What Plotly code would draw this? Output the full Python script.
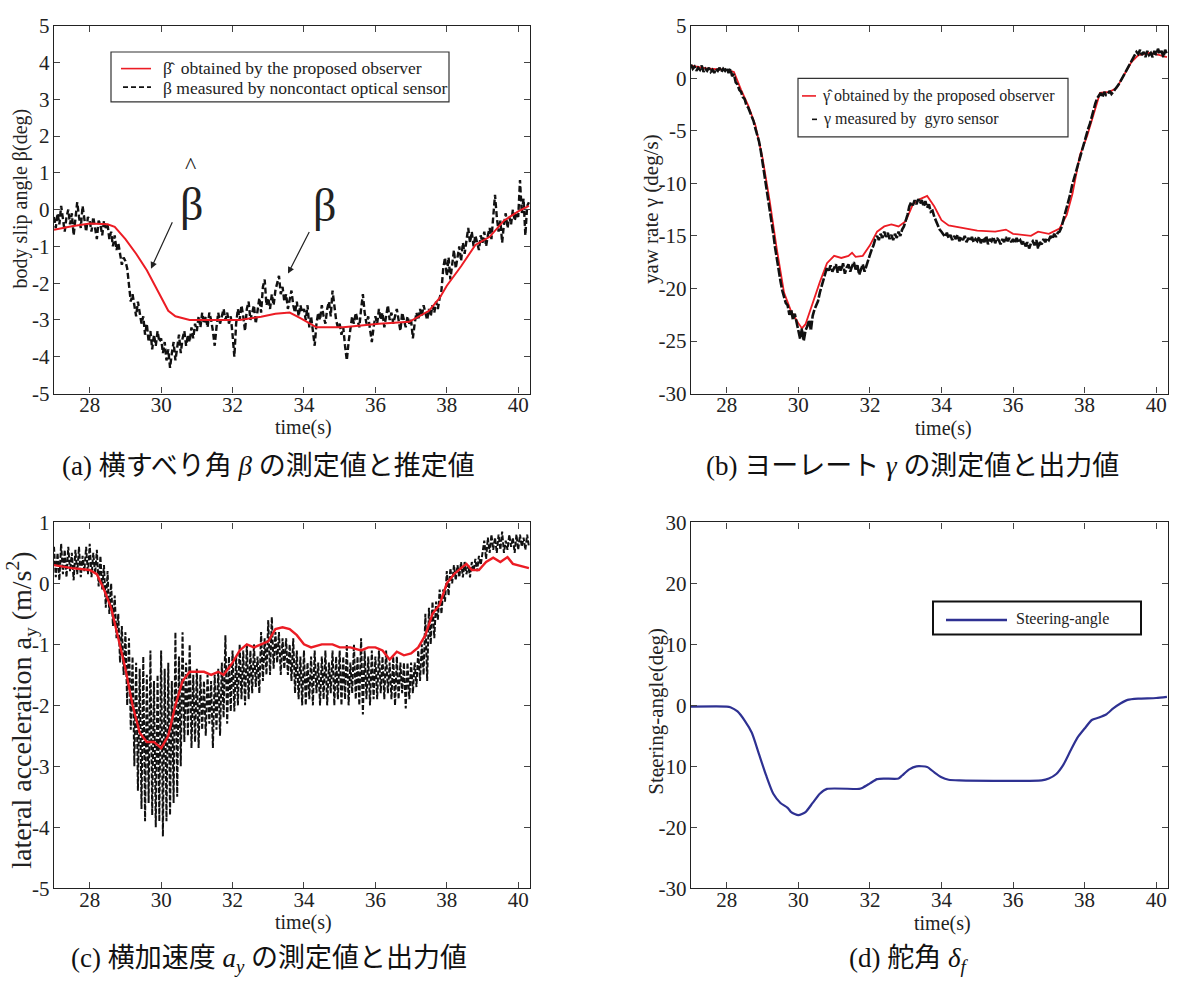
import plotly.graph_objects as go

# ---------------------------------------------------------------- data
# measured signals, sampled every 0.05 s starting at t = 27.0 s
T0, DT = 27.0, 0.05

beta_meas = [
    -0.2, -0.5, -0.1, -0.4, 0.1, -0.3, -0.6, -0.2, 0.0, -0.4, -0.1, -0.7, -0.3, 0.2, -0.2, -0.5, 0.1, -0.3, -0.6, -0.2,
    -0.3, -0.6, -0.2, -0.5, -0.8, -0.3, -0.4, -0.7, -0.3, -0.5, -0.4, -0.8, -0.6, -1.0, -0.7, -1.1, -0.9, -1.2, -1.5, -1.3,
    -1.4, -1.6, -2.1, -2.5, -2.3, -2.6, -2.9, -2.5, -2.8, -3.1, -2.9, -3.4, -3.1, -3.6, -3.3, -3.8, -3.4, -3.7, -3.3, -3.6,
    -3.5, -3.9, -3.6, -4.1, -3.8, -4.3, -3.9, -3.6, -4.1, -3.7, -3.4, -3.9, -3.5, -3.3, -3.7, -3.4, -3.6, -3.2, -3.5, -3.1,
    -3.3, -2.9, -3.2, -2.8, -3.1, -2.9, -3.2, -2.8, -3.0, -3.3, -3.7, -3.2, -2.8, -3.1, -2.9, -2.7, -3.0, -2.8, -3.1, -2.9,
    -3.4, -4.0, -3.1, -2.7, -3.0, -2.6, -2.9, -3.3, -2.7, -2.5, -3.0, -2.8, -2.6, -3.1, -2.7, -2.4, -2.8, -2.1, -1.9, -2.6,
    -2.4, -2.7, -2.3, -2.6, -2.2, -2.0, -1.8, -2.3, -2.1, -2.5, -2.3, -2.7, -2.4, -2.2, -2.6, -2.8, -2.5, -2.9, -2.6, -2.8,
    -2.7, -3.0, -2.6, -3.2, -2.9, -3.3, -3.7, -3.1, -2.8, -3.0, -2.6, -2.9, -3.1, -2.7, -2.5, -2.9, -2.2, -2.6, -3.0, -3.2,
    -3.1, -3.4, -3.2, -3.7, -4.1, -3.6, -3.2, -2.9, -3.1, -2.8, -3.0, -3.2, -2.7, -2.3, -2.8, -3.1, -2.9, -3.3, -3.6, -3.2,
    -2.9, -3.1, -2.7, -3.0, -2.8, -3.2, -2.9, -2.6, -3.0, -2.8, -3.1, -2.9, -2.7, -3.0, -3.3, -2.8, -3.0, -3.2, -2.9, -3.1,
    -3.0, -3.5, -3.1, -2.8, -3.0, -2.7, -2.9, -2.6, -2.8, -3.0, -2.7, -2.9, -2.6, -2.8, -2.5, -2.7, -2.4, -2.2, -1.6, -1.3,
    -1.8, -1.3, -1.9, -1.5, -1.1, -1.6, -1.3, -1.0, -1.4, -0.9, -1.2, -0.8, -0.5, -0.9, -0.6, -1.0, -0.7, -0.9, -1.1, -0.7,
    -0.9, -0.6, -1.0, -0.7, -0.5, -0.8, -0.3, 0.4, -0.2, -0.6, -0.3, -0.9, -0.4, -0.1, -0.5, -0.2, -0.4, 0.0, -0.3, -0.1,
    -0.2, 0.8, -0.1, 0.3, -0.7, 0.1, 0.2,
]

gamma_meas = [
    1.3, 0.9, 1.1, 0.7, 1.0, 0.8, 1.2, 0.6, 0.9, 0.7, 1.0, 0.6, 0.8, 0.5, 0.9, 0.7, 1.0, 0.6, 0.9, 0.7,
    1.0, 0.5, 0.9, 0.2, 0.4, -0.4, -0.6, -1.1, -1.3, -1.8, -2.0, -2.6, -2.8, -3.2, -3.6, -4.1, -4.8, -5.4, -6.0, -6.9,
    -8.0, -9.0, -10.0, -11.2, -12.3, -13.6, -14.8, -16.1, -17.3, -18.4, -19.3, -20.2, -20.7, -21.4, -21.6, -22.5, -22.0, -23.0, -22.4, -23.4,
    -24.0, -24.8, -23.8, -25.0, -24.0, -23.6, -23.0, -24.0, -22.6, -22.0, -21.6, -21.2, -20.4, -19.8, -19.3, -18.6, -18.0, -18.3, -17.8, -18.4,
    -18.1, -17.7, -18.5, -17.9, -18.3, -17.6, -18.6, -18.0, -17.7, -18.4, -17.9, -17.5, -18.2, -17.8, -18.7, -18.1, -17.7, -18.4, -17.8, -17.2,
    -16.8, -16.3, -15.9, -15.3, -15.0, -15.4, -14.8, -15.2, -14.6, -15.1, -14.7, -15.3, -14.9, -15.4, -14.8, -15.2, -14.6, -15.0, -14.4, -14.1,
    -13.6, -13.0, -12.2, -11.8, -12.1, -11.6, -12.0, -11.5, -11.9, -11.6, -12.2, -11.7, -12.3, -12.0, -12.7, -12.6, -13.2, -13.6, -14.0, -14.4,
    -14.6, -14.8, -15.1, -14.7, -15.2, -14.9, -15.4, -15.0, -15.3, -14.9, -15.5, -15.1, -15.4, -15.0, -15.6, -15.2, -15.5, -15.1, -15.6, -15.3,
    -15.5, -15.1, -15.7, -15.2, -15.6, -15.0, -15.8, -15.3, -15.5, -15.1, -15.7, -15.2, -15.4, -15.8, -15.3, -15.6, -15.1, -15.5, -15.2, -15.6,
    -15.3, -15.7, -15.2, -15.6, -15.4, -15.8, -15.5, -16.0, -15.6, -16.2, -15.7, -15.5, -15.9, -15.4, -16.2, -15.6, -15.8, -15.3, -15.6, -15.2,
    -15.4, -15.0, -15.3, -14.8, -15.1, -14.7, -14.6, -14.2, -13.6, -13.0, -12.4, -11.6, -11.0, -10.2, -9.6, -8.9, -8.3, -7.7, -7.0, -6.5,
    -5.9, -5.3, -4.8, -4.3, -3.6, -3.0, -2.4, -1.9, -1.6, -1.4, -1.8, -1.3, -1.6, -1.5, -1.2, -1.5, -1.3, -1.1, -0.9, -0.6,
    -0.3, 0.0, 0.3, 0.7, 1.0, 1.3, 1.6, 1.9, 2.2, 2.5, 2.3, 2.7, 2.2, 2.5, 2.0, 2.6, 2.2, 2.4, 2.0, 2.6,
    2.2, 2.8, 2.3, 2.6, 2.0, 2.7, 2.3,
]

ay_meas = [
    0.6, 0.1, 0.5, 0.05, 0.65, 0.15, 0.55, 0.1, 0.6, 0.2, 0.5, 0.05, 0.55, 0.15, 0.6, 0.1, 0.45, 0.2, 0.6, 0.15,
    0.65, 0.1, 0.5, 0.15, 0.55, -0.05, 0.45, -0.1, 0.3, -0.4, 0.2, -0.5, 0.0, -0.7, -0.2, -0.9, -0.5, -1.3, -0.7, -1.5,
    -0.8, -2.0, -0.9, -2.4, -1.2, -3.0, -1.3, -3.4, -1.4, -3.7, -1.2, -3.9, -1.5, -3.6, -1.1, -3.8, -1.6, -4.0, -1.5, -3.9,
    -1.1, -4.15, -1.4, -3.9, -1.3, -3.8, -1.6, -3.6, -0.8, -3.5, -1.2, -3.0, -0.8, -2.6, -1.3, -2.5, -1.0, -2.7, -1.5, -2.6,
    -1.4, -2.7, -1.5, -2.4, -1.6, -2.5, -1.5, -2.3, -1.6, -2.7, -1.5, -2.4, -1.4, -2.5, -1.3, -2.2, -0.85, -2.3, -1.2, -2.1,
    -1.1, -2.1, -1.2, -2.0, -1.0, -1.9, -1.1, -2.0, -1.0, -1.9, -1.1, -1.8, -1.0, -1.7, -1.2, -1.8, -0.8, -1.6, -0.9, -1.5,
    -0.6, -1.5, -0.55, -1.4, -0.8, -1.3, -0.8, -1.5, -0.9, -1.4, -0.9, -1.5, -1.0, -1.6, -0.9, -1.8, -1.1, -1.9, -1.2, -2.0,
    -1.1, -2.0, -1.3, -1.9, -1.2, -2.0, -1.1, -1.8, -1.3, -2.0, -1.2, -1.9, -1.1, -2.0, -1.3, -1.8, -1.1, -2.0, -1.2, -1.9,
    -1.1, -2.0, -1.2, -1.9, -1.0, -2.0, -1.3, -1.8, -1.0, -1.9, -1.2, -2.0, -0.9, -2.15, -1.1, -1.9, -1.2, -2.0, -1.1, -1.9,
    -1.2, -1.9, -1.1, -1.8, -1.2, -1.9, -1.1, -1.8, -1.3, -1.9, -1.2, -2.0, -1.2, -1.9, -1.3, -1.8, -1.3, -2.05, -1.3, -1.9,
    -1.3, -1.8, -1.3, -1.7, -1.1, -1.6, -1.0, -1.5, -0.5, -1.6, -0.4, -1.0, -0.3, -0.9, -0.3, -0.6, -0.1, -0.5, -0.1, -0.3,
    0.2, -0.2, 0.25, 0.0, 0.3, 0.05, 0.3, 0.1, 0.35, 0.1, 0.35, 0.15, 0.3, 0.1, 0.35, 0.2, 0.4, 0.2, 0.45, 0.3,
    0.5, 0.7, 0.4, 0.75, 0.5, 0.8, 0.55, 0.75, 0.5, 0.8, 0.55, 0.85, 0.5, 0.7, 0.55, 0.8, 0.6, 0.75, 0.5, 0.8,
    0.55, 0.8, 0.6, 0.75, 0.55, 0.8, 0.6,
]

# observer outputs and steering angle (time in s, value)
beta_est_t = [27.0, 27.5, 28.0, 28.5, 28.7, 29.0, 29.3, 29.6, 29.9, 30.2, 30.4, 30.8, 31.5, 32.2, 32.8,
              33.2, 33.6, 33.9, 34.35, 35.1, 36.1, 36.95, 37.5, 37.8, 38.0, 38.4, 38.8, 39.2, 39.6, 40.0, 40.3]
beta_est = [-0.55, -0.45, -0.38, -0.4, -0.47, -0.8, -1.2, -1.65, -2.2, -2.75, -2.9, -3.0, -3.0, -3.0, -2.91,
            -2.83, -2.8, -2.95, -3.2, -3.2, -3.1, -3.05, -2.75, -2.4, -2.07, -1.54, -0.96, -0.74, -0.3, -0.05, 0.1]

gamma_est_t = [27.0, 27.5, 28.0, 28.2, 28.4, 28.6, 28.8, 29.0, 29.2, 29.4, 29.6, 29.8, 30.0, 30.1, 30.2,
               30.4, 30.6, 30.8, 31.0, 31.2, 31.4, 31.5, 31.6, 31.8, 32.0, 32.2, 32.4, 32.6, 32.8, 33.0,
               33.2, 33.4, 33.6, 33.8, 34.0, 34.2, 34.5, 35.0, 35.5, 35.8, 36.0, 36.5, 36.7, 37.0, 37.3,
               37.5, 37.66, 37.87, 38.07, 38.28, 38.43, 38.7, 38.9, 39.1, 39.3, 39.5, 39.8, 40.0, 40.3]
gamma_est = [1.2, 0.9, 0.8, 0.6, -1.1, -2.6, -4.5, -7.6, -11.7, -16.3, -20.4, -22.2, -23.3, -23.8, -23.4,
             -21.3, -19.4, -17.6, -16.9, -17.1, -16.9, -16.6, -17.0, -16.9, -15.9, -14.6, -14.1, -13.9, -14.1, -13.6,
             -12.0, -11.5, -11.2, -12.2, -13.5, -14.0, -14.2, -14.5, -14.6, -14.4, -14.8, -15.0, -14.6, -14.8, -14.3,
             -13.0, -11.0, -7.3, -5.5, -3.0, -1.4, -1.3, -0.9, 0.3, 1.5, 2.2, 2.4, 2.3, 2.0]

ay_est_t = [27.0, 27.5, 28.0, 28.2, 28.4, 28.6, 28.8, 29.0, 29.2, 29.4, 29.6, 29.8, 30.0, 30.2, 30.4,
            30.6, 30.8, 31.0, 31.2, 31.4, 31.6, 31.75, 32.0, 32.2, 32.4, 32.6, 32.8, 33.0, 33.2, 33.4,
            33.6, 33.8, 34.0, 34.2, 34.5, 34.8, 35.0, 35.3, 35.6, 35.8, 36.0, 36.2, 36.4, 36.6, 36.8,
            37.0, 37.2, 37.4, 37.6, 37.8, 38.0, 38.2, 38.4, 38.55, 38.7, 38.9, 39.1, 39.3, 39.5, 39.7,
            39.85, 40.0, 40.3]
ay_est = [0.30, 0.25, 0.22, 0.15, -0.1, -0.4, -0.9, -1.4, -2.0, -2.45, -2.6, -2.6, -2.7, -2.5, -2.0,
          -1.6, -1.45, -1.45, -1.45, -1.5, -1.45, -1.5, -1.3, -1.1, -1.0, -1.05, -1.0, -0.95, -0.75, -0.72,
          -0.75, -0.85, -1.0, -1.05, -1.0, -1.0, -1.05, -1.05, -1.1, -1.05, -1.05, -1.1, -1.25, -1.12, -1.18,
          -1.15, -1.05, -0.85, -0.5, -0.35, 0.0, 0.15, 0.25, 0.32, 0.22, 0.22, 0.35, 0.42, 0.35, 0.43,
          0.32, 0.3, 0.25]

steer_t = [27.0, 28.0, 28.1, 28.3, 28.5, 28.7, 28.9, 29.1, 29.3, 29.5, 29.7, 29.8, 30.0, 30.2, 30.4,
           30.6, 30.8, 31.7, 31.8, 32.0, 32.2, 32.4, 32.8, 32.9, 33.1, 33.3, 33.6, 33.8, 34.0, 34.2,
           34.5, 36.8, 37.0, 37.2, 37.4, 37.6, 37.8, 38.0, 38.2, 38.4, 38.6, 38.8, 39.0, 39.2, 39.5,
           40.0, 40.3]
steer = [-0.2, -0.2, -0.3, -1.0, -2.5, -4.5, -8.0, -11.5, -14.5, -16.0, -16.8, -17.5, -18.0, -17.5, -16.0,
         -14.5, -13.7, -13.7, -13.5, -12.8, -12.1, -12.0, -12.0, -11.5, -10.5, -10.0, -10.1, -11.0, -11.8, -12.2,
         -12.3, -12.3, -12.0, -11.3, -9.8, -7.5, -5.3, -3.8, -2.4, -2.0, -1.5, -0.5, 0.3, 0.9, 1.1,
         1.2, 1.4]

# axis ticks
time_ticks = [28, 30, 32, 34, 36, 38, 40]
beta_ticks = [-5, -4, -3, -2, -1, 0, 1, 2, 3, 4, 5]
gamma_ticks = [-30, -25, -20, -15, -10, -5, 0, 5]
ay_ticks = [-5, -4, -3, -2, -1, 0, 1]
steer_ticks = [-30, -20, -10, 0, 10, 20, 30]

# ---------------------------------------------------------------- styling
W, H = 1179, 994
SERIF = "Liberation Serif, Times New Roman, serif"
JP = "Noto Sans CJK JP"
RED = "#ec1c24"
BLACK = "#111111"
BLUE = "#2e3192"


def px(x):
    return x / W


def py(y):
    return 1 - y / H


def times(vals):
    return [round(T0 + DT * i, 2) for i in range(len(vals))]


fig = go.Figure()

# (a) body slip angle
fig.add_trace(go.Scatter(x=times(beta_meas), y=beta_meas, mode="lines", xaxis="x", yaxis="y",
                         line=dict(color=BLACK, width=2.4, dash="6px,3px"), showlegend=False))
fig.add_trace(go.Scatter(x=beta_est_t, y=beta_est, mode="lines", xaxis="x", yaxis="y",
                         line=dict(color=RED, width=2), showlegend=False))
# (b) yaw rate
fig.add_trace(go.Scatter(x=gamma_est_t, y=gamma_est, mode="lines", xaxis="x2", yaxis="y2",
                         line=dict(color=RED, width=1.8), showlegend=False))
fig.add_trace(go.Scatter(x=times(gamma_meas), y=gamma_meas, mode="lines", xaxis="x2", yaxis="y2",
                         line=dict(color=BLACK, width=2.6, dash="9px,2px"), showlegend=False))
# (c) lateral acceleration
fig.add_trace(go.Scatter(x=times(ay_meas), y=ay_meas, mode="lines", xaxis="x3", yaxis="y3",
                         line=dict(color=BLACK, width=2, dash="5px,2px"), showlegend=False))
fig.add_trace(go.Scatter(x=ay_est_t, y=ay_est, mode="lines", xaxis="x3", yaxis="y3",
                         line=dict(color=RED, width=2.4), showlegend=False))
# (d) steering angle
fig.add_trace(go.Scatter(x=steer_t, y=steer, mode="lines", xaxis="x4", yaxis="y4",
                         line=dict(color=BLUE, width=2.2, shape="spline", smoothing=0.6), showlegend=False))


def axis_style(**kw):
    d = dict(showline=True, linecolor="#222", linewidth=1.4, mirror="ticks",
             ticks="inside", ticklen=6, tickwidth=1, tickcolor="#444",
             showgrid=False, zeroline=False,
             tickfont=dict(family=SERIF, size=21, color="#222"))
    d.update(kw)
    return d


def xax(domain, anchor):
    return axis_style(domain=domain, anchor=anchor, range=[27.0, 40.33],
                      tickvals=time_ticks, ticktext=[str(v) for v in time_ticks],
                      ticklabelstandoff=-8)


def yax(domain, anchor, rng, ticks):
    return axis_style(domain=domain, anchor=anchor, range=rng, tickvals=ticks,
                      ticktext=[str(v) for v in ticks], ticklabelstandoff=-1)


top_dom = [py(391), py(14)]
bot_dom = [py(898), py(523)]
left_dom = [px(54), px(530)]
right_dom = [px(691), px(1168)]

fig.update_layout(
    width=W, height=H, margin=dict(l=0, r=0, t=0, b=0),
    paper_bgcolor="white", plot_bgcolor="white",
    xaxis=xax(left_dom, "y"), yaxis=yax(top_dom, "x", [-5, 5], beta_ticks),
    xaxis2=xax(right_dom, "y2"), yaxis2=yax(top_dom, "x2", [-30, 5], gamma_ticks),
    xaxis3=xax(left_dom, "y3"), yaxis3=yax(bot_dom, "x3", [-5, 1], ay_ticks),
    xaxis4=xax(right_dom, "y4"), yaxis4=yax(bot_dom, "x4", [-30, 30], steer_ticks),
)

ann = []
shapes = []


def text(x, y, s, size, family=SERIF, angle=0, xanchor="center", color="#222"):
    ann.append(dict(x=px(x), y=py(y), xref="paper", yref="paper", text=s, showarrow=False,
                    textangle=angle, xanchor=xanchor, yanchor="middle",
                    font=dict(family=family, size=size, color=color)))


def seg(x0, y0, x1, y1, color, width, dash=None):
    line = dict(color=color, width=width)
    if dash:
        line["dash"] = dash
    shapes.append(dict(type="line", xref="paper", yref="paper", x0=px(x0), y0=py(y0),
                       x1=px(x1), y1=py(y1), line=line))


def box(x0, y0, x1, y1, width=1.2, color="#333"):
    shapes.append(dict(type="rect", xref="paper", yref="paper", x0=px(x0), y0=py(y0),
                       x1=px(x1), y1=py(y1), line=dict(color=color, width=width),
                       fillcolor="rgba(0,0,0,0)"))


# x-axis titles
for cx, cy in [(304, 426), (943, 427), (304, 933), (942, 934)]:
    text(cx, cy, "time(s)", 20)

# y-axis titles
text(20, 191, "body slip angle β(deg)", 20, angle=-90)
text(651, 202, "yaw rate γ (deg/s)", 21, angle=-90)
text(22, 716, "lateral acceleration a<sub>y</sub> (m/s<sup>2</sup>)", 28, angle=-90)
text(656, 717, "Steering-angle(deg)", 21, angle=-90)

# legend of (a)
box(111, 41, 449, 92)
seg(121, 58, 151, 58, RED, 1.6)
seg(123, 77, 151, 77, BLACK, 1.6, dash="5px,3px")
text(161, 57, "β̂  obtained by the proposed observer", 17.5, xanchor="left")
text(161, 78, "β measured by noncontact optical sensor", 17.5, xanchor="left")

# legend of (b)
box(798, 68, 1068, 128)
seg(802, 86, 816, 86, RED, 1.6)
seg(812, 110, 817, 110, BLACK, 1.6)
text(820, 86, "γ̂ obtained by the proposed observer", 16, xanchor="left")
text(821, 110, "γ measured by  gyro sensor", 16, xanchor="left")

# legend of (d)
box(933, 604, 1141, 638, width=2, color="#111")
seg(946, 623, 1007, 623, BLUE, 2.4)
text(1014, 622, "Steering-angle", 16, xanchor="left")

# callouts in (a)
text(191, 197, "β", 46)
text(190, 157, "^", 24)
text(324, 198, "β", 46)
for hx, hy, tx, ty in [(151, 263, 173, 215), (288, 268, 310, 225)]:
    ann.append(dict(x=px(hx), y=py(hy), xref="paper", yref="paper", text="", showarrow=True,
                    ax=tx - hx, ay=ty - hy, arrowhead=2, arrowsize=1.1, arrowwidth=1.2,
                    arrowcolor="#222"))


# panel captions
def caption(x, y, parts):
    text(x, y, parts, 27, color="#111")


def jp(s):
    return f"<span style='font-family:{JP}'>{s}</span>"


caption(268, 463, "(a) " + jp("横すべり角") + " <i>β</i> " + jp("の測定値と推定値"))
caption(912, 463, "(b) " + jp("ヨーレート") + " <i>γ</i> " + jp("の測定値と出力値"))
caption(269, 968, "(c) " + jp("横加速度") + " <i>a<sub>y</sub></i> " + jp("の測定値と出力値"))
caption(909, 968, "(d) " + jp("舵角") + " <i>δ<sub>f</sub></i>")

fig.update_layout(annotations=ann, shapes=shapes)
fig.write_html("out.html")
